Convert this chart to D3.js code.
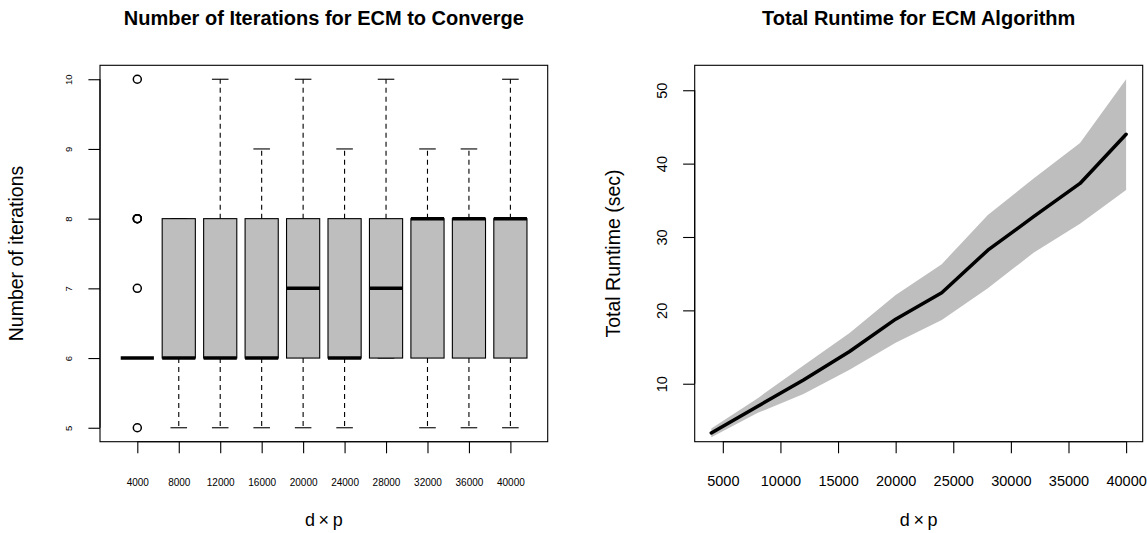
<!DOCTYPE html>
<meta charset="utf-8">
<style>
  body { margin: 0; background: #fff; }
  svg { font-family: "Liberation Sans", Arial, Helvetica, sans-serif; }
</style>
<svg width="1147" height="533"></svg>
<script src="https://cdn.jsdelivr.net/npm/d3@7"></script>
<script>

// --- data: iterations boxplot ---
var iterCats = ["4000", "8000", "12000", "16000", "20000", "24000", "28000", "32000", "36000", "40000"];
var whiskLow = [6, 5, 5, 5, 5, 5, 6, 5, 5, 5];
var boxQ1    = [6, 6, 6, 6, 6, 6, 6, 6, 6, 6];
var boxMed   = [6, 6, 6, 6, 7, 6, 7, 8, 8, 8];
var boxQ3    = [6, 8, 8, 8, 8, 8, 8, 8, 8, 8];
var whiskHigh = [6, 8, 10, 9, 10, 9, 10, 9, 9, 10];
var outlierCat = [0, 0, 0, 0, 0, 0];
var outlierVal = [5, 7, 8, 8, 8, 10];
var iterTicks = [5, 6, 7, 8, 9, 10];

// --- data: runtime ---
var dp = [4000, 8000, 12000, 16000, 20000, 24000, 28000, 32000, 36000, 40000];
var runMean  = [3.3, 6.9, 10.5, 14.4, 18.8, 22.4, 28.2, 32.8, 37.3, 44.0];
var runUpper = [3.9, 8.0, 12.5, 16.9, 22.1, 26.3, 33.0, 38.0, 42.8, 51.5];
var runLower = [2.7, 6.0, 8.6, 11.9, 15.6, 18.7, 23.0, 27.9, 31.8, 36.4];
var runYLim = [4, 51.5];
var runXTicks = [5000, 10000, 15000, 20000, 25000, 30000, 35000, 40000];
var runYTicks = [10, 20, 30, 40, 50];

var svg = d3.select("svg");
var pTop = 65.3, pBottom = 441.7;
var left1 = 100, right1 = 547.7,
    left2 = 694.7, right2 = 1142.7;

// R style 4% range extension
function ext(a, b) { var d = (b - a) * 0.04; return [a - d, b + d]; }

// ================= left: boxplot =================
var x1 = d3.scaleLinear().domain(ext(0.5, iterCats.length + 0.5)).range([left1, right1]);
var y1 = d3.scaleLinear().domain(ext(5, 10)).range([pBottom, pTop]);

var g1 = svg.append("g");
var bw = 0.4; // half box width in units

var boxes = g1.selectAll(".box")
    .data(iterCats)
  .enter().append("g")
    .attr("class", "box");

// whiskers (dashed)
boxes.append("line")
    .attr("x1", function(d, i) { return x1(i + 1); })
    .attr("x2", function(d, i) { return x1(i + 1); })
    .attr("y1", function(d, i) { return y1(boxQ3[i]); })
    .attr("y2", function(d, i) { return y1(whiskHigh[i]); })
    .attr("stroke", "#000").attr("stroke-width", 1.1).attr("stroke-dasharray", "5,4")
    .style("display", function(d, i) { return whiskHigh[i] > boxQ3[i] ? null : "none"; });
boxes.append("line")
    .attr("x1", function(d, i) { return x1(i + 1); })
    .attr("x2", function(d, i) { return x1(i + 1); })
    .attr("y1", function(d, i) { return y1(boxQ1[i]); })
    .attr("y2", function(d, i) { return y1(whiskLow[i]); })
    .attr("stroke", "#000").attr("stroke-width", 1.1).attr("stroke-dasharray", "5,4")
    .style("display", function(d, i) { return whiskLow[i] < boxQ1[i] ? null : "none"; });

// staples
[whiskLow, whiskHigh].forEach(function(arr) {
  boxes.append("line")
      .attr("x1", function(d, i) { return x1(i + 1 - bw / 2); })
      .attr("x2", function(d, i) { return x1(i + 1 + bw / 2); })
      .attr("y1", function(d, i) { return y1(arr[i]); })
      .attr("y2", function(d, i) { return y1(arr[i]); })
      .attr("stroke", "#000").attr("stroke-width", 1.1)
      .style("display", function(d, i) { return boxQ3[i] > boxQ1[i] ? null : "none"; });
});

// box
boxes.append("rect")
    .attr("x", function(d, i) { return x1(i + 1 - bw); })
    .attr("width", x1(1 + bw) - x1(1 - bw))
    .attr("y", function(d, i) { return y1(boxQ3[i]); })
    .attr("height", function(d, i) { return y1(boxQ1[i]) - y1(boxQ3[i]); })
    .attr("fill", "#bebebe")
    .attr("stroke", "#000").attr("stroke-width", 1.1)
    .style("display", function(d, i) { return boxQ3[i] > boxQ1[i] ? null : "none"; });

// median
boxes.append("line")
    .attr("x1", function(d, i) { return x1(i + 1 - bw); })
    .attr("x2", function(d, i) { return x1(i + 1 + bw); })
    .attr("y1", function(d, i) { return y1(boxMed[i]); })
    .attr("y2", function(d, i) { return y1(boxMed[i]); })
    .attr("stroke", "#000").attr("stroke-width", 3.5);

// outliers
g1.selectAll(".out")
    .data(outlierVal)
  .enter().append("circle")
    .attr("cx", function(d, i) { return x1(outlierCat[i] + 1); })
    .attr("cy", function(d) { return y1(d); })
    .attr("r", 4)
    .attr("fill", "none").attr("stroke", "#000").attr("stroke-width", 1.5);

// frame
g1.append("rect")
    .attr("x", left1).attr("y", pTop)
    .attr("width", right1 - left1).attr("height", pBottom - pTop)
    .attr("fill", "none").attr("stroke", "#000").attr("stroke-width", 1.1);

// axes
var ax1 = g1.append("g")
    .attr("transform", "translate(0," + pBottom + ")")
    .call(d3.axisBottom(x1).tickValues(d3.range(1, iterCats.length + 1)).tickSize(11.6).tickSizeOuter(0)
      .tickFormat(function(d) { return iterCats[d - 1]; }));
ax1.select(".domain").attr("d", "M" + x1(1) + ",0H" + x1(iterCats.length));
ax1.selectAll(".tick text").attr("y", 44.3).attr("dy", null)
    .attr("font-size", "10px").attr("font-family", null).attr("fill", "#000");

var ay1 = g1.append("g")
    .attr("transform", "translate(" + left1 + ",0)")
    .call(d3.axisLeft(y1).tickValues(iterTicks).tickSize(11.6).tickSizeOuter(0)
      .tickFormat(d3.format("d")));
ay1.select(".domain").attr("d", "M0," + y1(5) + "V" + y1(10));
ay1.selectAll(".tick text")
    .attr("x", 0).attr("y", -28.3).attr("dy", null)
    .attr("transform", "rotate(-90)")
    .attr("text-anchor", "middle")
    .attr("font-size", "9.5px").attr("font-family", null).attr("fill", "#000");

// ================= right: runtime =================
var x2 = d3.scaleLinear().domain(ext(d3.min(dp), d3.max(dp))).range([left2, right2]);
var y2 = d3.scaleLinear().domain(ext(runYLim[0], runYLim[1])).range([pBottom, pTop]);

var g2 = svg.append("g");

var area = d3.area()
    .x(function(d, i) { return x2(dp[i]); })
    .y0(function(d, i) { return y2(runLower[i]); })
    .y1(function(d, i) { return y2(runUpper[i]); });
g2.append("path").datum(dp).attr("d", area).attr("fill", "#bebebe");

var line = d3.line()
    .x(function(d, i) { return x2(dp[i]); })
    .y(function(d) { return y2(d); });
g2.append("path").datum(runMean).attr("d", line)
    .attr("fill", "none").attr("stroke", "#000").attr("stroke-width", 3.5)
    .attr("stroke-linejoin", "round").attr("stroke-linecap", "round");

g2.append("rect")
    .attr("x", left2).attr("y", pTop)
    .attr("width", right2 - left2).attr("height", pBottom - pTop)
    .attr("fill", "none").attr("stroke", "#000").attr("stroke-width", 1.1);

var ax2 = g2.append("g")
    .attr("transform", "translate(0," + pBottom + ")")
    .call(d3.axisBottom(x2).tickValues(runXTicks).tickSize(11.6).tickSizeOuter(0)
      .tickFormat(d3.format("d")));
ax2.select(".domain").attr("d", "M" + x2(runXTicks[0]) + ",0H" + x2(runXTicks[runXTicks.length - 1]));
ax2.selectAll(".tick text").attr("y", 44.3).attr("dy", null)
    .attr("font-size", "14.5px").attr("font-family", null).attr("fill", "#000");

var ay2 = g2.append("g")
    .attr("transform", "translate(" + left2 + ",0)")
    .call(d3.axisLeft(y2).tickValues(runYTicks).tickSize(11.6).tickSizeOuter(0));
ay2.select(".domain").attr("d", "M0," + y2(10) + "V" + y2(50));
ay2.selectAll(".tick text")
    .attr("x", 0).attr("y", -27.7).attr("dy", null)
    .attr("transform", "rotate(-90)")
    .attr("text-anchor", "middle")
    .attr("font-size", "14.5px").attr("font-family", null).attr("fill", "#000");

svg.selectAll(".tick line, .domain").attr("stroke", "#000").attr("stroke-width", 1.1);

// ================= titles & labels =================
var midY = (pTop + pBottom) / 2;
[[left1, right1, "Number of Iterations for ECM to Converge", "Number of iterations", 23.3],
 [left2, right2, "Total Runtime for ECM Algorithm", "Total Runtime (sec)", 620]].forEach(function(p) {
  var cx = (p[0] + p[1]) / 2;
  svg.append("text")
      .attr("x", cx).attr("y", 25)
      .attr("text-anchor", "middle")
      .attr("font-size", "20px").attr("font-weight", "bold")
      .text(p[2]);
  svg.append("text")
      .attr("transform", "translate(" + p[4] + "," + midY + ") rotate(-90)")
      .attr("text-anchor", "middle")
      .attr("font-size", "19.5px")
      .text(p[3]);
  svg.append("text")
      .attr("x", cx).attr("y", 526)
      .attr("text-anchor", "middle")
      .attr("font-size", "18px")
      .text("d\u2009\u00d7\u2009p");
});

</script>
